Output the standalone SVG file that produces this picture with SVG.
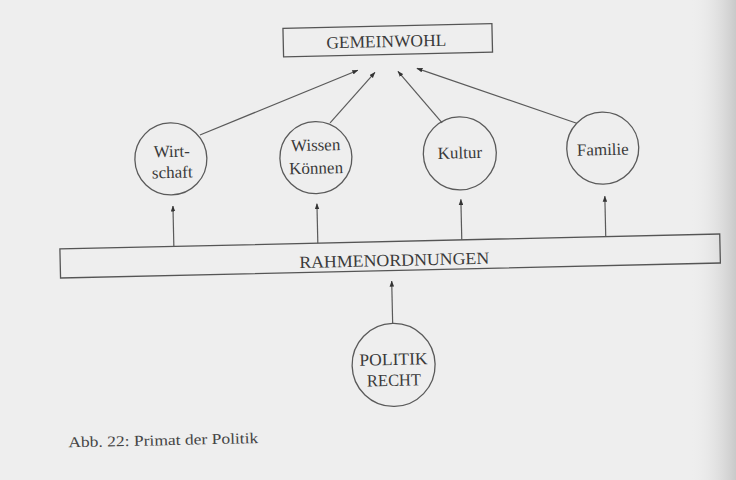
<svg xmlns="http://www.w3.org/2000/svg" width="736" height="480" viewBox="0 0 736 480">
  <defs>
    <linearGradient id="pageEdge" x1="0" y1="0" x2="1" y2="0">
      <stop offset="0" stop-color="#eeeeee" stop-opacity="0"/>
      <stop offset="1" stop-color="#c9c9c9"/>
    </linearGradient>
    <marker id="tip" viewBox="0 0 8 6" refX="7.5" refY="3" markerWidth="6" markerHeight="5" markerUnits="userSpaceOnUse" orient="auto">
      <path d="M0,0 L8,3 L0,6 z" fill="#333"/>
    </marker>
    <style>
      .box { fill: none; stroke: #555; stroke-width: 1.3; }
      .node circle { fill: none; stroke: #5a5a5a; stroke-width: 1.3; }
      .lbl { font-family: "Liberation Serif", "Times New Roman", serif; font-size: 17px; fill: #3a3a3a; text-anchor: middle; }
      .cap { font-family: "Liberation Serif", "Times New Roman", serif; font-size: 15px; fill: #444; }
      #connectors line { stroke: #5a5a5a; stroke-width: 1.2; marker-end: url(#tip); }
    </style>
  </defs>

  <!-- page -->
  <rect width="736" height="480" fill="#eeeeee"/>
  <rect x="690" y="0" width="46" height="480" fill="url(#pageEdge)"/>

  <!-- the printed figure sits slightly askew on the page -->
  <g transform="rotate(-1.3 390 250)">
    <g id="gemeinwohl">
      <rect class="box" x="288" y="26" width="209" height="28.5"/>
      <text class="lbl" x="391" y="47" textLength="120" lengthAdjust="spacingAndGlyphs">GEMEINWOHL</text>
    </g>

    <g id="wirtschaft" class="node">
      <circle cx="173" cy="154" r="36"/>
      <text class="lbl" x="174" y="152">Wirt-</text>
      <text class="lbl" x="174" y="173">schaft</text>
    </g>

    <g id="wissen" class="node">
      <circle cx="318" cy="156" r="36"/>
      <text class="lbl" x="318" y="149">Wissen</text>
      <text class="lbl" x="318" y="172">Können</text>
    </g>

    <g id="kultur" class="node">
      <circle cx="462" cy="155" r="36.5"/>
      <text class="lbl" x="462" y="160">Kultur</text>
    </g>

    <g id="familie" class="node">
      <circle cx="605" cy="153" r="36"/>
      <text class="lbl" x="605" y="160">Familie</text>
    </g>

    <g id="rahmenordnungen">
      <rect class="box" x="60" y="241.5" width="660" height="29"/>
      <text class="lbl" x="394" y="266" textLength="190" lengthAdjust="spacingAndGlyphs">RAHMENORDNUNGEN</text>
    </g>

    <g id="politik" class="node">
      <circle cx="391" cy="365" r="41.5"/>
      <text class="lbl" x="391" y="365" textLength="68" lengthAdjust="spacingAndGlyphs">POLITIK</text>
      <text class="lbl" x="391" y="386" textLength="54" lengthAdjust="spacingAndGlyphs">RECHT</text>
    </g>

    <g id="connectors">
      <line x1="202.6" y1="130.7" x2="362" y2="69.5"/>
      <line x1="333" y1="121.6" x2="379" y2="72"/>
      <line x1="445" y1="124" x2="402" y2="71.5"/>
      <line x1="579.5" y1="127.5" x2="421" y2="69"/>
      <line x1="174" y1="241.5" x2="174" y2="201"/>
      <line x1="318" y1="241.5" x2="318" y2="202"/>
      <line x1="462" y1="241.5" x2="462" y2="201"/>
      <line x1="606" y1="241.5" x2="606" y2="201"/>
      <line x1="391" y1="323.5" x2="391" y2="281"/>
    </g>

    <text class="cap" x="64" y="440" textLength="190" lengthAdjust="spacingAndGlyphs">Abb. 22: Primat der Politik</text>
  </g>
</svg>
